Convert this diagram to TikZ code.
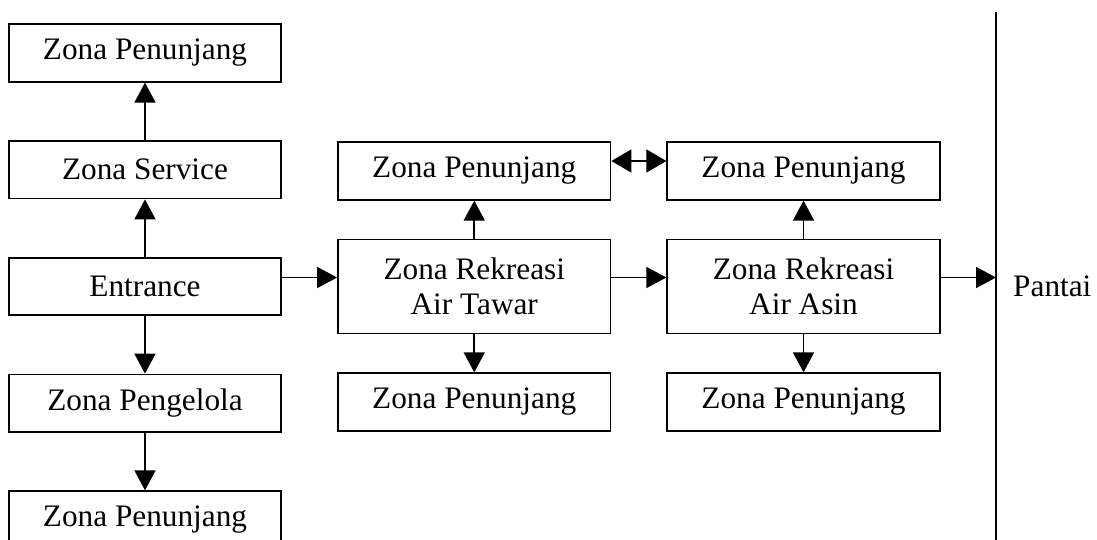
\documentclass[tikz,border=0pt]{standalone}
\usepackage{fontspec}
\setmainfont{Liberation Serif}
\usetikzlibrary{positioning, arrows.meta}

\begin{document}
\begin{tikzpicture}[
    font          = \fontsize{17.8}{20}\selectfont,
    zona/.style   = {draw, rectangle, line width=1pt, minimum height=1.15cm, minimum width=5.45cm, align=center},
    rekreasi/.style = {zona, minimum height=1.88cm},
    arrow/.style  = {-{Triangle[length=0.4cm, width=0.42cm]}, line width=0.9pt},
    biarrow/.style = {{Triangle[length=0.4cm, width=0.46cm]}-{Triangle[length=0.4cm, width=0.46cm]}, line width=0.9pt},
    node distance = 1.15cm and 1.1cm
]
\useasboundingbox (0,0) rectangle (21.94,-10.8);

% Kolom kiri
\node[zona]               (E)  at (2.9,-5.73) {Entrance};
\node[zona, above=of E]   (S)  {Zona Service};
\node[zona, above=of S]   (P1) {Zona Penunjang};
\node[zona, below=of E]   (G)  {Zona Pengelola};
\node[zona, below=of G]   (P2) {Zona Penunjang};

% Zona rekreasi
\node[rekreasi, right=of E]  (RT) {Zona Rekreasi\\Air Tawar};
\node[rekreasi, right=of RT] (RA) {Zona Rekreasi\\Air Asin};

% Zona penunjang rekreasi
\node[zona, above=0.76cm of RT] (P3) {Zona Penunjang};
\node[zona, below=0.76cm of RT] (P4) {Zona Penunjang};
\node[zona, above=0.76cm of RA] (P5) {Zona Penunjang};
\node[zona, below=0.76cm of RA] (P6) {Zona Penunjang};

% Garis pantai
\coordinate (shoreTop) at (19.92,-0.24);
\coordinate (shoreBot) at (19.92,-10.9);
\draw[line width=1pt] (shoreTop) -- (shoreBot);
\node[anchor=west] (pantai) at (20.14,-5.73) {Pantai};

% Panah kolom kiri
\draw[arrow] (E) -- (S);
\draw[arrow] (S) -- (P1);
\draw[arrow] (E) -- (G);
\draw[arrow] (G) -- (P2);

% Panah utama
\draw[arrow] ([yshift=0.18cm]E.east)  -- ([yshift=0.18cm]RT.west);
\draw[arrow] ([yshift=0.18cm]RT.east) -- ([yshift=0.18cm]RA.west);
\draw[arrow] ([yshift=0.18cm]RA.east) -- ([yshift=0.18cm]RA.east -| shoreTop);

% Panah ke zona penunjang
\draw[arrow] (RT) -- (P3);
\draw[arrow] (RT) -- (P4);
\draw[arrow] (RA) -- (P5);
\draw[arrow] (RA) -- (P6);
\draw[biarrow] ([yshift=0.2cm]P3.east) -- ([yshift=0.2cm]P5.west);

\end{tikzpicture}
\end{document}
